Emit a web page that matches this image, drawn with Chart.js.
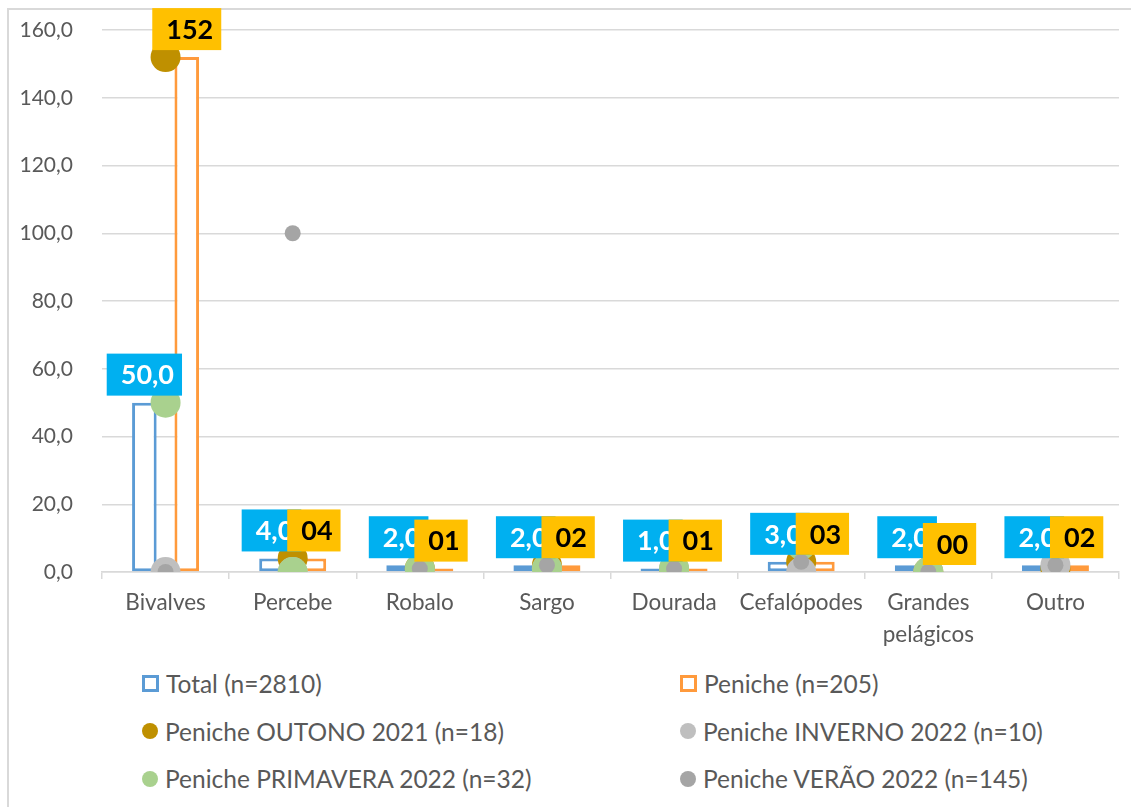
<!DOCTYPE html>
<html lang="pt">
<head>
<meta charset="utf-8">
<title>Capturas por espécie</title>
<script src="https://cdn.jsdelivr.net/npm/chart.js@4.4.1/dist/chart.umd.min.js"></script>
<style>
  html, body { margin: 0; padding: 0; background: #fff; overflow: hidden; }
  #wrap { position: relative; width: 1131px; height: 807px; overflow: hidden; }
  #frame { position: absolute; left: 7px; top: 8px; width: 1200px; height: 900px;
           border: 2px solid #d9d9d9; box-sizing: border-box; }
  #chartBox { position: absolute; left: 0; top: 0; width: 1134px; height: 660px; }
  #legend { position: absolute; left: 142px; top: 660px; display: grid;
            grid-template-columns: 538px auto; grid-auto-rows: 47.5px;
            font-family: Lato, "Open Sans", sans-serif; font-size: 24.5px; color: #595959; }
  .item { display: flex; align-items: center; white-space: nowrap; }
  .mark { width: 17px; height: 17px; margin-right: 7px; box-sizing: border-box; flex: none; }
  .mark.box { border: 3px solid; background: #fff; }
  .mark.dot { border-radius: 50%; width: 16px; height: 16px; }
</style>
</head>
<body>
<div id="wrap">
  <div id="frame"></div>
  <div id="chartBox"><canvas id="capturasChart" width="1134" height="660"></canvas></div>
  <div id="legend"></div>
</div>
<script>
// categorias e séries
const categorias = ['Bivalves', 'Percebe', 'Robalo', 'Sargo', 'Dourada', 'Cefalópodes', ['Grandes', 'pelágicos'], 'Outro'];
const total     = [50, 4, 2, 2, 1, 3, 2, 2];
const peniche   = [152, 4, 1, 2, 1, 3, 0, 2];
const outono    = [152, 4, 1, 2, 0, 3, 0, 1];
const inverno   = [0, 0, 0, 1, 1, 0, 0, 2];
const primavera = [50, 0, 1, 1, 1, 8, 0, null];
const verao     = [0, 100, 1, 2, 1, 3, 0, 2];
const yTicks    = [0, 20, 40, 60, 80, 100, 120, 140, 160];

const fmtTotal = v => v.toFixed(1).replace('.', ',');
const fmtPeniche = v => String(v).padStart(2, '0');

function pontos(label, data, color, radius, order) {
    return {
        type: 'line', label: label, data: data, order: order,
        showLine: false,
        pointRadius: radius, pointHoverRadius: radius,
        pointBackgroundColor: color, pointBorderColor: color, pointBorderWidth: 0,
        backgroundColor: color, borderColor: color
    };
}

// caixas de valor por cima das barras
const barLabels = {
    id: 'barLabels',
    afterDatasetsDraw(chart) {
        const ctx = chart.ctx;
        const styles = [
            { fill: '#00B0F0', text: '#ffffff', fmt: fmtTotal },
            { fill: '#FFC000', text: '#000000', fmt: fmtPeniche }
        ];
        ctx.save();
        ctx.font = 'bold 27px Lato, "Open Sans", sans-serif';
        ctx.textAlign = 'center';
        ctx.textBaseline = 'middle';
        styles.forEach((st, di) => {
            const meta = chart.getDatasetMeta(di);
            const values = chart.data.datasets[di].data;
            meta.data.forEach((bar, i) => {
                const txt = st.fmt(values[i]);
                const w = ctx.measureText(txt).width + 22;
                const h = 42;
                const bottom = bar.y - 7;
                ctx.fillStyle = st.fill;
                ctx.fillRect(bar.x - w / 2, bottom - h, w, h);
                ctx.fillStyle = st.text;
                ctx.fillText(txt, bar.x + 3, bottom - h / 2 + 1);
            });
        });
        ctx.restore();
    }
};

const ctx = document.getElementById('capturasChart').getContext('2d');
const capturasChart = new Chart(ctx, {
    type: 'bar',
    data: {
        labels: categorias,
        datasets: [
            {
                label: 'Total (n=2810)', data: total, order: 5,
                backgroundColor: '#ffffff', borderColor: '#5B9BD5',
                borderWidth: 3, borderSkipped: false
            },
            {
                label: 'Peniche (n=205)', data: peniche, order: 6,
                backgroundColor: '#ffffff', borderColor: '#FF9A3C',
                borderWidth: 3, borderSkipped: false
            },
            pontos('Peniche OUTONO 2021 (n=18)', outono, '#BF9000', 15, 4),
            pontos('Peniche INVERNO 2022 (n=10)', inverno, '#BFBFBF', 15, 3),
            pontos('Peniche PRIMAVERA 2022 (n=32)', primavera, '#A9D18E', 15, 2),
            pontos('Peniche VERÃO 2022 (n=145)', verao, '#A5A5A5', 8, 1)
        ]
    },
    options: {
        responsive: false,
        animation: false,
        categoryPercentage: 0.667,
        barPercentage: 0.58,
        layout: { padding: { top: 30, left: 0, right: 0, bottom: 0 } },
        plugins: {
            legend: { display: false },
            tooltip: { enabled: false }
        },
        scales: {
            x: {
                offset: true,
                afterFit: scale => { scale.height = 88; },
                border: { display: true, color: '#d9d9d9', width: 1.5 },
                grid: { offset: true, drawOnChartArea: false, drawTicks: true, tickLength: 7, color: '#d9d9d9', lineWidth: 1.5 },
                ticks: {
                    color: '#595959', padding: 8, maxRotation: 0,
                    font: { family: 'Lato, "Open Sans", sans-serif', size: 22.5, lineHeight: 1.4 }
                }
            },
            y: {
                min: 0, max: 160,
                afterFit: scale => {
                    scale.width = 102;
                    scale.paddingTop = 0;
                    scale.paddingBottom = 0;
                },
                afterBuildTicks: scale => { scale.ticks = yTicks.map(v => ({ value: v })); },
                border: { display: false },
                grid: { color: '#d9d9d9', lineWidth: 1.5, drawTicks: false },
                ticks: {
                    color: '#595959', padding: 29,
                    font: { family: 'Lato, "Open Sans", sans-serif', size: 21 },
                    callback: v => fmtTotal(v)
                }
            }
        }
    },
    plugins: [barLabels]
});

// legenda em duas colunas
const legend = document.getElementById('legend');
capturasChart.data.datasets.forEach((ds, i) => {
    const item = document.createElement('div');
    item.className = 'item';
    const mark = document.createElement('span');
    if (i < 2) {
        mark.className = 'mark box';
        mark.style.borderColor = ds.borderColor;
    } else {
        mark.className = 'mark dot';
        mark.style.background = ds.pointBackgroundColor;
    }
    item.appendChild(mark);
    item.appendChild(document.createTextNode(ds.label));
    legend.appendChild(item);
});
</script>
</body>
</html>
